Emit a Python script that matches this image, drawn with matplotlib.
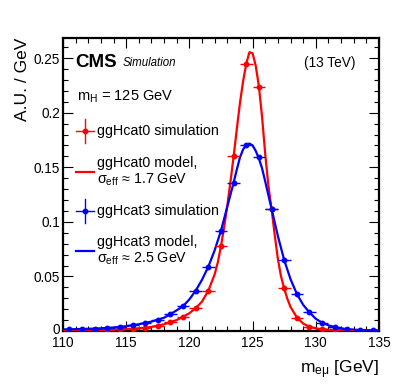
import numpy as np
import matplotlib
matplotlib.use("Agg")
import matplotlib.pyplot as plt
import matplotlib.transforms as mtransforms

plt.rcParams['font.family'] = ['Liberation Sans', 'DejaVu Sans']
plt.rcParams['mathtext.fontset'] = 'custom'
plt.rcParams['mathtext.rm'] = 'Liberation Sans'
plt.rcParams['mathtext.it'] = 'Liberation Sans:italic'
plt.rcParams['mathtext.bf'] = 'Liberation Sans:bold'

# ---- data ----
bin_centers = [110.5 + i for i in range(25)]
cat0_sim = [0.0006, 0.0007, 0.0009, 0.0012, 0.0016, 0.0021, 0.0030, 0.0050, 0.0080,
            0.0130, 0.0210, 0.0370, 0.0780, 0.1600, 0.2450, 0.2240, 0.1120, 0.0390,
            0.0116, 0.0035, 0.0016, 0.0009, 0.0006, 0.0004, 0.0003]
cat3_sim = [0.0015, 0.0018, 0.0022, 0.0028, 0.0037, 0.0052, 0.0073, 0.0098, 0.0153,
            0.0225, 0.0370, 0.0590, 0.0920, 0.1360, 0.1700, 0.1590, 0.1120, 0.0650,
            0.0340, 0.0172, 0.0076, 0.0037, 0.0016, 0.0009, 0.0005]

cat0_model_x = [110, 111, 112, 113, 114, 115, 116, 117, 118, 118.5, 119, 119.5, 120, 120.5,
                121, 121.5, 122, 122.25, 122.5, 122.75, 123, 123.25, 123.5, 123.75, 124,
                124.25, 124.5, 124.75, 125, 125.25, 125.5, 125.75, 126, 126.25, 126.5,
                126.75, 127, 127.25, 127.5, 127.75, 128, 128.5, 129, 129.5, 130, 130.5,
                131, 132, 133, 134, 135]
cat0_model_y = [0.0005, 0.0006, 0.0008, 0.0010, 0.0013, 0.0018, 0.0025, 0.0037, 0.0062, 0.0080,
                0.0101, 0.0130, 0.0163, 0.0210, 0.0270, 0.0370, 0.0520, 0.0630, 0.0780,
                0.0950, 0.1150, 0.1370, 0.1600, 0.1850, 0.2090, 0.2290, 0.2450, 0.2555,
                0.2545, 0.2430, 0.2240, 0.1960, 0.1620, 0.1330, 0.1120, 0.0880, 0.0660,
                0.0500, 0.0390, 0.0295, 0.0220, 0.0125, 0.0068, 0.0038, 0.0024, 0.0016,
                0.0012, 0.0008, 0.0005, 0.0004, 0.0003]

cat3_model_x = [110, 111, 112, 113, 114, 115, 116, 117, 118, 118.5, 119, 119.5, 120, 120.5,
                121, 121.5, 122, 122.5, 123, 123.5, 123.75, 124, 124.25, 124.5, 124.75,
                125, 125.25, 125.5, 125.75, 126, 126.5, 127, 127.5, 128, 128.5, 129, 129.5,
                130, 130.5, 131, 131.5, 132, 132.5, 133, 134, 135]
cat3_model_y = [0.0014, 0.0017, 0.0020, 0.0025, 0.0032, 0.0044, 0.0062, 0.0086, 0.0122, 0.0155,
                0.0190, 0.0228, 0.0290, 0.0370, 0.0470, 0.0590, 0.0740, 0.0920, 0.1140,
                0.1360, 0.1480, 0.1590, 0.1665, 0.1705, 0.1718, 0.1700, 0.1650, 0.1580,
                0.1490, 0.1370, 0.1120, 0.0870, 0.0650, 0.0475, 0.0340, 0.0240, 0.0170,
                0.0112, 0.0076, 0.0052, 0.0036, 0.0025, 0.0017, 0.0012, 0.0007, 0.0005]

bin_halfwidth = 0.5
xticks = [110, 115, 120, 125, 130, 135]
yticks = [0, 0.05, 0.1, 0.15, 0.2, 0.25]
ytick_labels = ['0', '0.05', '0.1', '0.15', '0.2', '0.25']

RED = '#ff0000'
BLUE = '#0000ff'

fig = plt.figure(figsize=(3.99, 3.87), dpi=100)
ax = fig.add_axes([63/399, 1-331/387, 316/399, 293/387])

ax.plot(cat0_model_x, cat0_model_y, color=RED, lw=1.6, zorder=3)
ax.plot(cat3_model_x, cat3_model_y, color=BLUE, lw=1.6, zorder=3)
for y, c in ((cat0_sim, RED), (cat3_sim, BLUE)):
    ax.errorbar(bin_centers, y, xerr=bin_halfwidth, fmt='o', color=c, ms=3.2,
                elinewidth=1.0, ecolor=c, capsize=0, zorder=4)

ax.set_xlim(110, 135)
ax.set_ylim(0, 0.2685)
ax.set_xticks(xticks)
ax.set_xticklabels([str(t) for t in xticks])
ax.set_yticks(yticks)
ax.set_yticklabels(ytick_labels)
ax.set_xticks(np.arange(110, 135.1, 1), minor=True)
ax.set_yticks(np.arange(0, 0.2681, 0.01), minor=True)
ax.tick_params(which='both', direction='in', top=True, right=True, labelsize=9.8, width=0.8)
ax.tick_params(which='major', length=7)
ax.tick_params(which='minor', length=3.5)
ax.tick_params(axis='x', pad=3.5)
ax.tick_params(axis='y', pad=2)
for s in ax.spines.values():
    s.set_linewidth(1.6)

# nudge the "0" y label up slightly so it does not collide with "110"
zero_lbl = ax.get_yticklabels()[0]
zero_lbl.set_transform(zero_lbl.get_transform() +
                       mtransforms.ScaledTranslation(0, 3/100, fig.dpi_scale_trans))

ax.set_ylabel('A.U. / GeV', fontsize=12.5, loc='top')
ax.yaxis.set_label_coords(-0.105, 1.0)
ax.set_xlabel(r'm$_{\mathrm{eμ}}$ [GeV]', fontsize=12.5, loc='right')
ax.xaxis.set_label_coords(1.0, -0.095)
ax.xaxis.label.set_va('top')

T = ax.transAxes
ax.text(0.038, 0.915, 'CMS', fontsize=13.5, fontweight='bold', transform=T, va='center', ha='left')
ax.text(0.19, 0.913, 'Simulation', fontsize=8.3, style='italic', transform=T, va='center', ha='left')
ax.text(0.927, 0.915, '(13 TeV)', fontsize=9.8, transform=T, va='center', ha='right')
ax.text(0.044, 0.80, r'm$_{\mathrm{H}}$ = 125 GeV', fontsize=10.5, transform=T, va='center', ha='left')

# legend (manual)
hx0, hx1 = 0.041, 0.098
hxc = 0.5 * (hx0 + hx1)
tx = 0.108
entries = [
    ('sim', RED, 0.6826, 'ggHcat0 simulation'),
    ('model', RED, 0.5427, 'ggHcat0 model,\nσ$_{\\mathrm{eff}}$ ≈ 1.7 GeV'),
    ('sim', BLUE, 0.4096, 'ggHcat3 simulation'),
    ('model', BLUE, 0.273, 'ggHcat3 model,\nσ$_{\\mathrm{eff}}$ ≈ 2.5 GeV'),
]
for kind, c, yy, lab in entries:
    if kind == 'sim':
        ax.plot([hx0, hx1], [yy, yy], color=c, lw=1.0, transform=T, clip_on=False)
        ax.plot([hxc, hxc], [yy - 0.04, yy + 0.04], color=c, lw=1.0, transform=T, clip_on=False)
        ax.plot([hxc], [yy], 'o', color=c, ms=3.2, transform=T, clip_on=False)
    else:
        ax.plot([hx0, hx1], [yy, yy], color=c, lw=1.6, transform=T, clip_on=False)
    ax.text(tx, yy, lab, fontsize=10.3, transform=T, va='center', ha='left', linespacing=1.2)

fig.savefig('out.png', dpi=100)
